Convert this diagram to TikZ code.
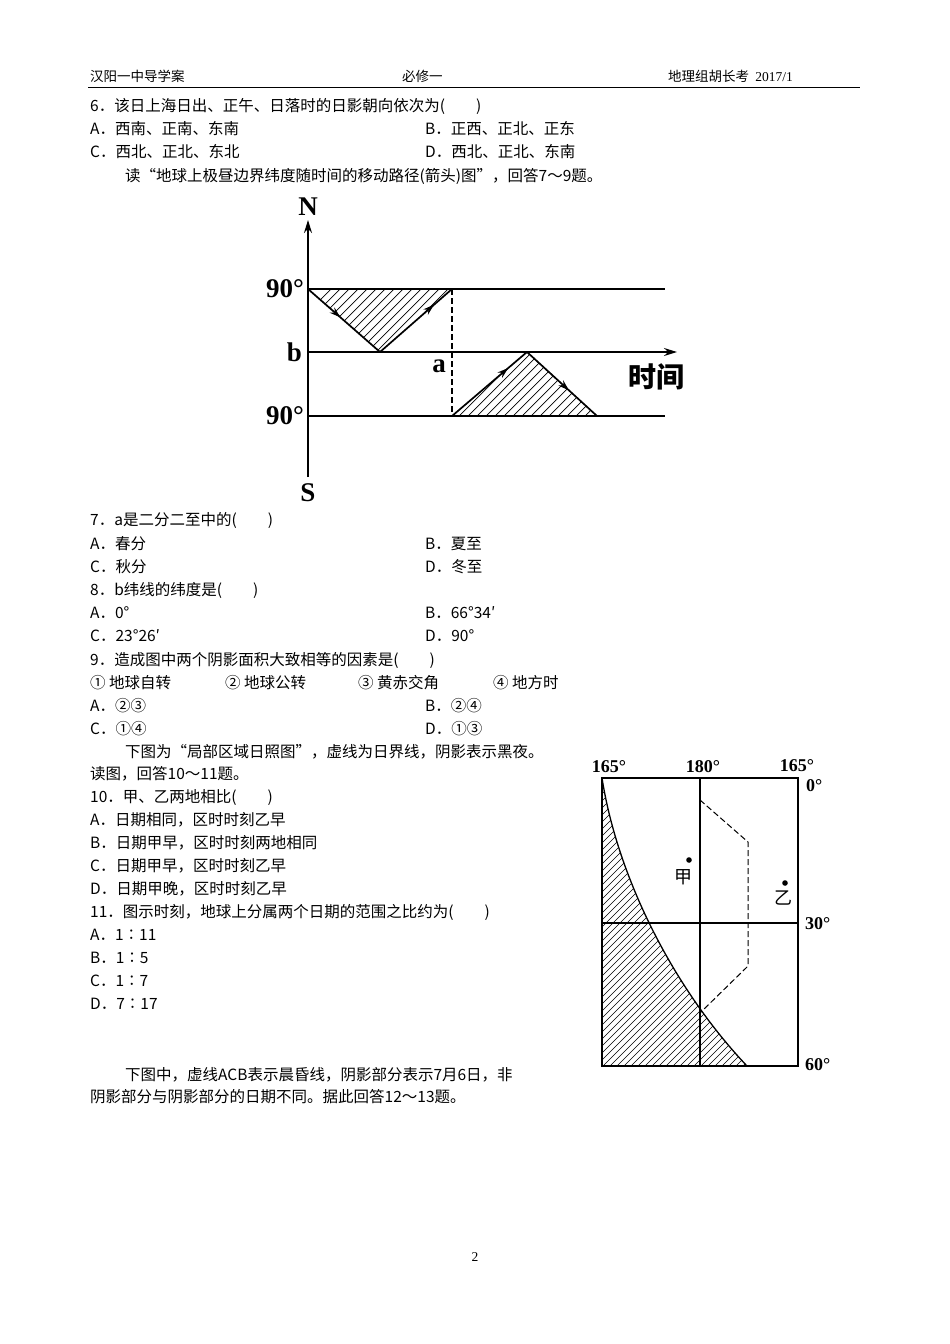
\documentclass[tikz,border=0pt]{standalone}
\usepackage{fontspec}
\setmainfont{Noto Sans CJK SC}
\newfontfamily\lat{Liberation Serif}
\usetikzlibrary{decorations.markings,arrows.meta}
\begin{document}
\begin{tikzpicture}[x=1pt,y=-1pt,
  txt/.style={anchor=west,inner sep=0pt,font=\fontsize{15.5}{17}\selectfont},
  hdr/.style={anchor=west,inner sep=0pt,font=\fontsize{13.5}{15}\selectfont},
  lab/.style={inner sep=0pt,font=\lat\bfseries\fontsize{27}{29}\selectfont},
  lab2/.style={inner sep=0pt,font=\lat\bfseries\fontsize{18}{20}\selectfont},
  ln/.style={line width=1.7pt},
  midarr/.style={postaction={decorate},decoration={markings,mark=at position #1 with {\arrow{Stealth[length=11pt,width=7pt]}}}}]
\useasboundingbox (0,0) rectangle (950,1344);
\fill[white] (0,0) rectangle (950,1344);
% header
\node[hdr] (h1) at (90,76) {汉阳一中导学案};
\node[hdr] (h2) at (402,76) {必修一};
\node[hdr] (h3) at (668,76) {地理组胡长考\ \ {\lat 2017/1}};
\draw[line width=0.8pt] (88,87) -- (860,87);
% text
\node[txt] (t1) at (90,106) {6．该日上海日出、正午、日落时的日影朝向依次为(　　)};
\node[txt] (t2) at (90,129) {A．西南、正南、东南};
\node[txt] (t3) at (425,129) {B．正西、正北、正东};
\node[txt] (t4) at (90,152) {C．西北、正北、东北};
\node[txt] (t5) at (425,152) {D．西北、正北、东南};
\node[txt] (t6) at (125,176) {读“地球上极昼边界纬度随时间的移动路径(箭头)图”，回答7～9题。};
\node[txt] (t7) at (90,520) {7．a是二分二至中的(　　)};
\node[txt] (t8) at (90,544) {A．春分};
\node[txt] (t9) at (425,544) {B．夏至};
\node[txt] (t10) at (90,567) {C．秋分};
\node[txt] (t11) at (425,567) {D．冬至};
\node[txt] (t12) at (90,590) {8．b纬线的纬度是(　　)};
\node[txt] (t13) at (90,613) {A．0°};
\node[txt] (t14) at (425,613) {B．66°34′};
\node[txt] (t15) at (90,636) {C．23°26′};
\node[txt] (t16) at (425,636) {D．90°};
\node[txt] (t17) at (90,660) {9．造成图中两个阴影面积大致相等的因素是(　　)};
\node[txt] (t18) at (90,683) {① 地球自转};
\node[txt] (t19) at (225,683) {② 地球公转};
\node[txt] (t20) at (358,683) {③ 黄赤交角};
\node[txt] (t21) at (493,683) {④ 地方时};
\node[txt] (t22) at (90,706) {A．②③};
\node[txt] (t23) at (425,706) {B．②④};
\node[txt] (t24) at (90,729) {C．①④};
\node[txt] (t25) at (425,729) {D．①③};
\node[txt] (t26) at (125,752) {下图为“局部区域日照图”，虚线为日界线，阴影表示黑夜。};
\node[txt] (t27) at (90,774) {读图，回答10～11题。};
\node[txt] (t28) at (90,797) {10．甲、乙两地相比(　　)};
\node[txt] (t29) at (90,820) {A．日期相同，区时时刻乙早};
\node[txt] (t30) at (90,843) {B．日期甲早，区时时刻两地相同};
\node[txt] (t31) at (90,866) {C．日期甲早，区时时刻乙早};
\node[txt] (t32) at (90,889) {D．日期甲晚，区时时刻乙早};
\node[txt] (t33) at (90,912) {11．图示时刻，地球上分属两个日期的范围之比约为(　　)};
\node[txt] (t34) at (90,935) {A．1∶11};
\node[txt] (t35) at (90,958) {B．1∶5};
\node[txt] (t36) at (90,981) {C．1∶7};
\node[txt] (t37) at (90,1004) {D．7∶17};
\node[txt] (t38) at (125,1075) {下图中，虚线ACB表示晨昏线，阴影部分表示7月6日，非};
\node[txt] (t39) at (90,1097) {阴影部分与阴影部分的日期不同。据此回答12～13题。};
\node[inner sep=0pt,font=\lat\fontsize{13.5}{15}\selectfont] (pg) at (475,1257) {2};
% ===== figure 1 =====
\begin{scope}
\clip (308,289) -- (452,289) -- (380,352) -- cycle;
\foreach \i in {0,...,40} \draw[line width=0.7pt] (250+\i*9,370) -- ++(90,-90);
\end{scope}
\begin{scope}
\clip (452,416) -- (527,352) -- (597,416) -- cycle;
\foreach \i in {0,...,40} \draw[line width=0.7pt] (400+\i*9,430) -- ++(90,-90);
\end{scope}
\coordinate (ax0) at (308,477);
\coordinate (ax1) at (308,220);
\draw[ln,-{Stealth[length=13pt,width=8pt]}] (ax0) -- (ax1);
\node[lab] (N) at (308,207) {N};
\node[lab] (S) at (308,493) {S};
\coordinate (l1a) at (308,289); \coordinate (l1b) at (665,289);
\coordinate (l2a) at (308,352); \coordinate (l2b) at (677,352);
\coordinate (l3a) at (308,416); \coordinate (l3b) at (665,416);
\draw[ln] (l1a) -- (l1b);
\draw[ln,-{Stealth[length=13pt,width=8pt]}] (l2a) -- (l2b);
\draw[ln] (l3a) -- (l3b);
\coordinate (p1) at (380,352); \coordinate (p2) at (452,289);
\coordinate (q0) at (452,416); \coordinate (q1) at (527,352); \coordinate (q2) at (597,416);
\draw[ln,midarr=0.45] (l1a) -- (p1);
\draw[ln,midarr=0.75] (p1) -- (p2);
\draw[ln,midarr=0.75] (q0) -- (q1);
\draw[ln,midarr=0.6] (q1) -- (q2);
\draw[line width=1.3pt,dash pattern=on 6pt off 3pt] (p2) -- (q0);
\node[lab,anchor=east] (n90a) at (304,289) {90°};
\node[lab,anchor=east] (n90b) at (304,416) {90°};
\node[lab,anchor=east] (nb) at (302,352) {b};
\node[lab] (na) at (439,366) {a};
\node[inner sep=0pt,font=\bfseries\fontsize{28}{30}\selectfont] (time) at (656,377) {时间};
% ===== figure 2 =====
\begin{scope}
\clip (602,778) .. controls (618,880) and (675,990) .. (747,1066) -- (602,1066) -- cycle;
\foreach \i in {-70,...,30} \draw[line width=0.6pt] (540+\i*7,1080) -- ++(320,-320);
\end{scope}
\draw[line width=1.3pt] (602,778) .. controls (618,880) and (675,990) .. (747,1066);
\draw[line width=1.3pt] (602,778) rectangle (798,1066);
\coordinate (m0) at (700,778); \coordinate (m1) at (700,1066);
\coordinate (h30a) at (602,923); \coordinate (h30b) at (798,923);
\draw[line width=1.2pt] (m0) -- (m1);
\draw[line width=1.2pt] (h30a) -- (h30b);
\coordinate (d0) at (700,800); \coordinate (d1) at (748,842);
\coordinate (d2) at (748,966); \coordinate (d3) at (700,1013);
\draw[line width=1pt,dash pattern=on 6pt off 3pt] (d0) -- (d1) -- (d2) -- (d3);
\fill (689,860) circle (2.8pt);
\fill (785,883) circle (2.8pt);
\node[inner sep=0pt,font=\fontsize{18}{20}\selectfont] (jia) at (683,877) {甲};
\node[inner sep=0pt,font=\fontsize{18}{20}\selectfont] (yi) at (783,898) {乙};
\node[lab2] (g1) at (609,767) {165°};
\node[lab2] (g2) at (703,767) {180°};
\node[lab2] (g3) at (797,766) {165°};
\node[lab2,anchor=west] (g4) at (806,786) {0°};
\node[lab2,anchor=west] (g5) at (805,924) {30°};
\node[lab2,anchor=west] (g6) at (805,1065) {60°};
\end{tikzpicture}
\end{document}
